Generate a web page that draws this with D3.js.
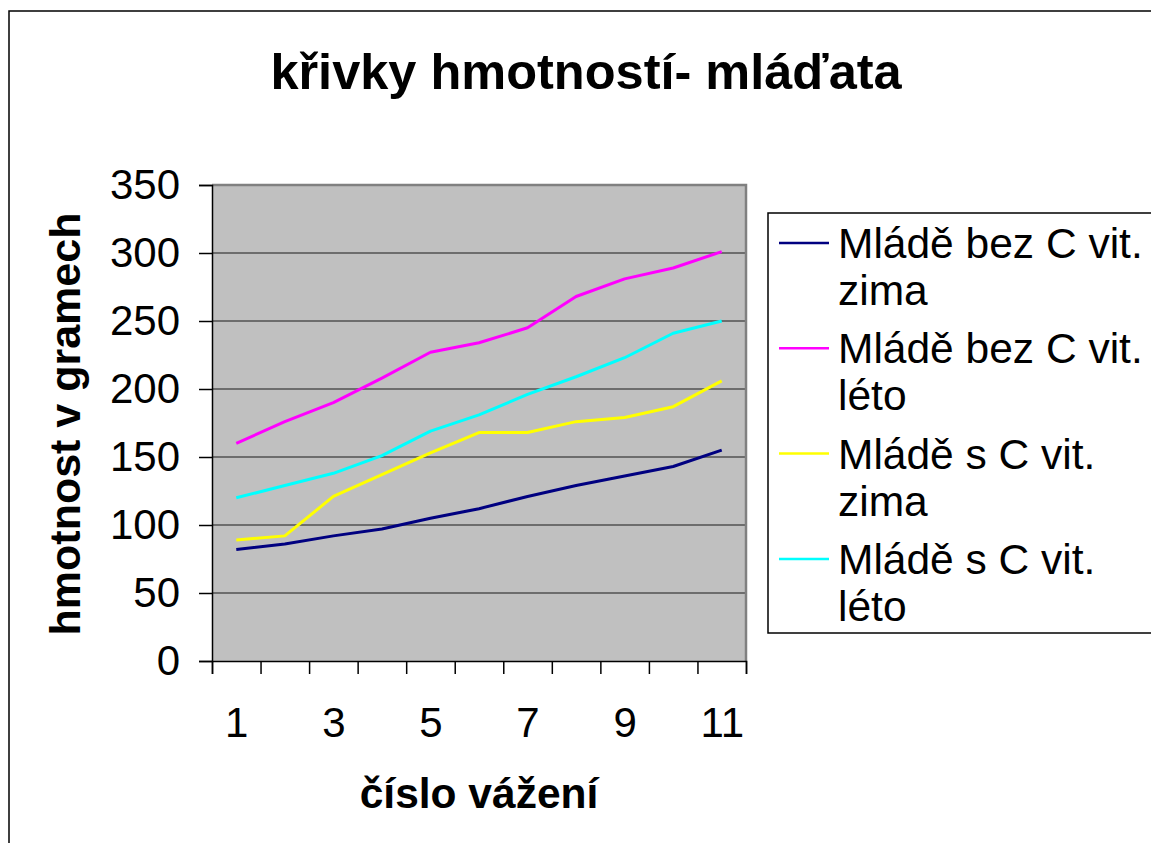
<!DOCTYPE html>
<html>
<head>
<meta charset="utf-8">
<script src="https://cdn.jsdelivr.net/npm/d3@7"></script>
<style>
  html, body { margin: 0; padding: 0; background: #ffffff; }
  svg { display: block; font-family: "Liberation Sans", Arial, sans-serif; }
</style>
</head>
<body>
<svg id="chart" width="1151" height="843"></svg>
<script>
// ---- data ----
const categories = [1, 2, 3, 4, 5, 6, 7, 8, 9, 10, 11];
const xTickLabels = [1, 3, 5, 7, 9, 11];
const yTicks = [0, 50, 100, 150, 200, 250, 300, 350];
const seriesNames = ["Mládě bez C vit. zima", "Mládě bez C vit. léto", "Mládě s C vit. zima", "Mládě s C vit. léto"];
const seriesLegendLines = [["Mládě bez C vit.", "zima"], ["Mládě bez C vit.", "léto"], ["Mládě s C vit.", "zima"], ["Mládě s C vit.", "léto"]];
const bezZima = [82, 86, 92, 97, 105, 112, 121, 129, 136, 143, 155];
const bezLeto = [160, 176, 190, 208, 227, 234, 245, 268, 281, 289, 301];
const sZima   = [89, 92, 121, 137, 153, 168, 168, 176, 179, 187, 206];
const sLeto   = [120, 129, 138, 151, 169, 181, 196, 209, 223, 241, 250];
const seriesColors = ["#000080", "#FF00FF", "#FFFF00", "#00FFFF"];
const title = "křivky hmotností- mláďata";
const xTitle = "číslo vážení";
const yTitle = "hmotnost v gramech";

const seriesValues = [bezZima, bezLeto, sZima, sLeto];

// ---- layout ----
const svg = d3.select("#chart");
const P = { left: 212, right: 746, top: 185, bottom: 661 };

// outer border (extends beyond the visible area on right/bottom)
svg.append("rect").attr("x", 9).attr("y", 11).attr("width", 1200).attr("height", 900)
  .attr("fill", "none").attr("stroke", "#000").attr("stroke-width", 1.5);

const x = d3.scaleLinear().domain([0.5, 11.5]).range([P.left, P.right]);
const y = d3.scaleLinear().domain([0, 350]).range([P.bottom, P.top]);

// plot background
svg.append("rect").attr("x", P.left).attr("y", P.top)
  .attr("width", P.right - P.left).attr("height", P.bottom - P.top)
  .attr("fill", "#C0C0C0");

// gridlines
svg.append("g").selectAll("line").data(yTicks.filter(v => v > 0 && v < 350)).join("line")
  .attr("x1", P.left).attr("x2", P.right)
  .attr("y1", d => y(d)).attr("y2", d => y(d))
  .attr("stroke", "#1a1a1a").attr("stroke-width", 1);

// plot border top/right (gray)
svg.append("path")
  .attr("d", `M${P.left},${P.top}H${P.right}V${P.bottom}`)
  .attr("fill", "none").attr("stroke", "#808080").attr("stroke-width", 2.5);

// lines
const line = d3.line().x((d, i) => x(categories[i])).y(d => y(d));
svg.append("g").selectAll("path").data(seriesValues).join("path")
  .attr("d", d => line(d))
  .attr("fill", "none")
  .attr("stroke", (d, i) => seriesColors[i])
  .attr("stroke-width", 3)
  .attr("stroke-linejoin", "round");

// y axis
const yAxis = svg.append("g").attr("transform", `translate(${P.left},0)`)
  .call(d3.axisLeft(y).tickValues(yTicks).tickSize(13).tickPadding(19).tickFormat(d3.format("d")));
yAxis.select(".domain").attr("stroke", "#000").attr("stroke-width", 1.5);
yAxis.selectAll(".tick line").attr("stroke", "#000").attr("stroke-width", 1.5);
yAxis.selectAll(".tick text").attr("font-size", 42).attr("fill", "#000")
  .attr("font-family", "Liberation Sans, Arial, sans-serif");

// x axis ticks at category boundaries
const bounds = d3.range(0.5, 12, 1);
const xAxis = svg.append("g").attr("transform", `translate(0,${P.bottom})`)
  .call(d3.axisBottom(x).tickValues(bounds).tickSize(13).tickFormat(""));
xAxis.select(".domain").attr("stroke", "#000").attr("stroke-width", 1.5);
xAxis.selectAll(".tick line").attr("stroke", "#000").attr("stroke-width", 1.5);

// x axis labels at category centers
const xLab = svg.append("g").attr("transform", `translate(0,${P.bottom})`)
  .call(d3.axisBottom(x).tickValues(xTickLabels).tickSize(0).tickPadding(46).tickFormat(d3.format("d")));
xLab.select(".domain").remove();
xLab.selectAll(".tick text").attr("font-size", 42).attr("fill", "#000")
  .attr("font-family", "Liberation Sans, Arial, sans-serif");

// title
svg.append("text").attr("x", 586).attr("y", 89).attr("text-anchor", "middle")
  .attr("font-size", 50.5).attr("font-weight", "bold").text(title);

// axis titles
svg.append("text").attr("x", 479).attr("y", 808).attr("text-anchor", "middle")
  .attr("font-size", 42.5).attr("font-weight", "bold").text(xTitle);
svg.append("text").attr("transform", "translate(80,424) rotate(-90)").attr("text-anchor", "middle")
  .attr("font-size", 43).attr("font-weight", "bold").text(yTitle);

// legend
const L = { x: 768, y: 213, w: 400, h: 420 };
svg.append("rect").attr("x", L.x).attr("y", L.y).attr("width", L.w).attr("height", L.h)
  .attr("fill", "#fff").attr("stroke", "#000").attr("stroke-width", 1.5);
const leg = svg.append("g").selectAll("g").data(seriesNames).join("g")
  .attr("transform", (d, i) => `translate(0,${243 + i * 105.3})`);
leg.append("line").attr("x1", 779).attr("x2", 829).attr("y1", 0).attr("y2", 0)
  .attr("stroke", (d, i) => seriesColors[i]).attr("stroke-width", 2.5);
leg.append("text").attr("x", 838).attr("y", 15).attr("font-size", 42.5)
  .selectAll("tspan").data((d, i) => seriesLegendLines[i]).join("tspan")
  .attr("x", 838).attr("dy", (d, j) => j === 0 ? 0 : 47).text(d => d);
</script>
</body>
</html>
